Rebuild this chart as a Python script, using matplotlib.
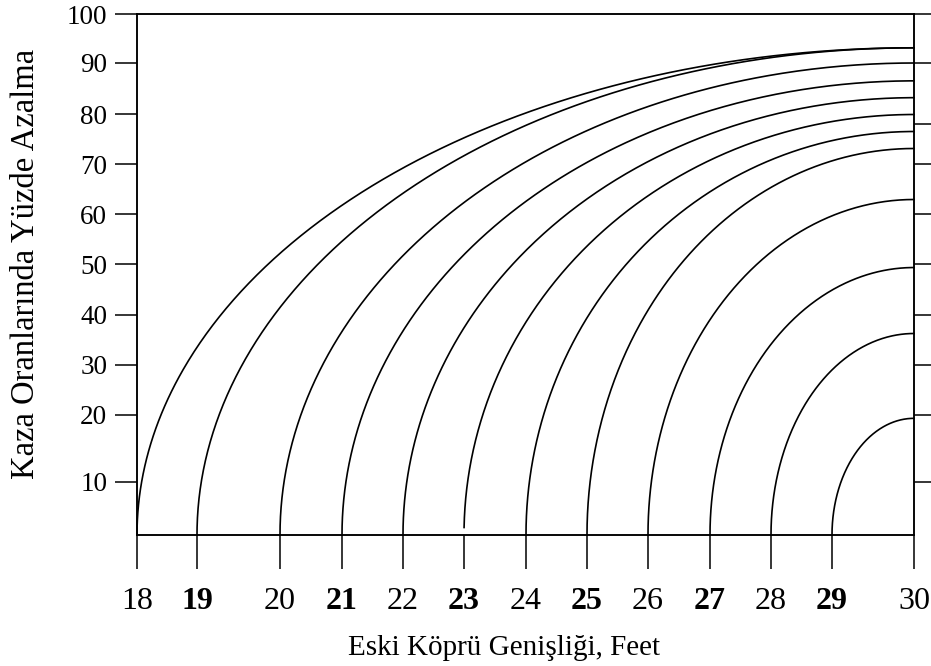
import numpy as np
import matplotlib
matplotlib.use('Agg')
import matplotlib.pyplot as plt

plt.rcParams['font.family'] = ['Liberation Serif', 'DejaVu Serif']

# eski genislik (feet) -> her egrinin basladigi yer
start_width = [18, 19, 20, 21, 22, 23, 24, 25, 26, 27, 28, 29]
start_pct = [0, 0, 0, 0, 0, 1.4, 0, 0, 0, 0, 0, 0]
# 30 ft'teki azalma yuzdesi (egrinin tepesi)
peak_pct = [93.1, 93.1, 90.0, 86.5, 83.2, 79.9, 76.5, 73.1, 62.9, 49.3, 36.2, 19.5]
end_width = 30

x_ticks = [18, 19, 20, 21, 22, 23, 24, 25, 26, 27, 28, 29, 30]
bold_ticks = [19, 21, 23, 25, 27, 29]
y_ticks = [10, 20, 30, 40, 50, 60, 70, 80, 90, 100]
y_ticks_right = [10, 20, 30, 40, 50, 60, 70, 78, 90, 100]

# the original axes are not evenly spaced, so use a piecewise scale
x_pos = [0, 60, 143, 205, 266, 327, 389, 450, 511, 573, 634, 695, 777]
y_vals = [0, 10, 20, 30, 40, 50, 60, 70, 80, 90, 100]
y_pos = [0, 53.5, 120, 170.5, 220.5, 271, 321, 371, 421, 472, 521]


def piecewise(vals, pos):
    vals = np.asarray(vals, float)
    pos = np.asarray(pos, float)

    def lin(v, a, b):
        v = np.asarray(v, float)
        out = np.interp(v, a, b)
        out = np.where(v < a[0], b[0] + (v - a[0]) * (b[1] - b[0]) / (a[1] - a[0]), out)
        out = np.where(v > a[-1], b[-1] + (v - a[-1]) * (b[-1] - b[-2]) / (a[-1] - a[-2]), out)
        return out

    return (lambda v: lin(v, vals, pos)), (lambda p: lin(p, pos, vals))


fx, ix = piecewise(x_ticks, x_pos)
fy, iy = piecewise(y_vals, y_pos)

fig = plt.figure(figsize=(9.31, 6.66), dpi=100)
ax = fig.add_axes([137/931, 131/666, 777/931, 521/666])
ax.set_xscale('function', functions=(fx, ix))
ax.set_yscale('function', functions=(fy, iy))

# quarter ellipses in the drawn space, ending flat at 30 ft
for x0, y0, pk in zip(start_width, start_pct, peak_pct):
    a = fx(end_width) - fx(x0)
    b = fy(pk) - fy(0)
    t0 = np.arcsin((fy(y0) - fy(0)) / b)
    t = np.linspace(t0, np.pi / 2, 400)
    px = fx(end_width) - a * np.cos(t)
    py = fy(0) + b * np.sin(t)
    ax.plot(ix(px), iy(py), color='k', lw=1.2, clip_on=False)

ax.set_xlim(18, 30)
ax.set_ylim(0, 100)

ax.set_xticks(x_ticks)
ax.set_xticklabels([str(v) for v in x_ticks], fontsize=23)
for lbl, v in zip(ax.get_xticklabels(), x_ticks):
    if v in bold_ticks:
        lbl.set_fontweight('bold')
ax.set_yticks(y_ticks)
ax.set_yticklabels([str(v) for v in y_ticks], fontsize=19.5)
ax.tick_params(axis='x', direction='out', length=24.5, width=1.1, pad=13)
ax.tick_params(axis='y', direction='out', length=16, width=1.1, pad=5.5)
ax.minorticks_off()
for s in ax.spines.values():
    s.set_linewidth(1.1)

ax2 = ax.twinx()
ax2.set_yscale('function', functions=(fy, iy))
ax2.set_ylim(0, 100)
ax2.set_yticks(y_ticks_right)
ax2.set_yticklabels([])
ax2.tick_params(axis='y', direction='out', length=12.2, width=1.1)
ax2.minorticks_off()
for s in ax2.spines.values():
    s.set_linewidth(1.1)

ax.set_xlabel('Eski Köprü Genişliği, Feet', fontsize=21)
ax.xaxis.set_label_coords(0.4723, -0.2303)
ax.xaxis.label.set_va('baseline')
ax.set_ylabel('Kaza Oranlarında Yüzde Azalma', fontsize=23.5)
ax.yaxis.set_label_coords(-0.1332, 0.520)
ax.yaxis.label.set_va('baseline')

fig.savefig('out.png', dpi=100)
